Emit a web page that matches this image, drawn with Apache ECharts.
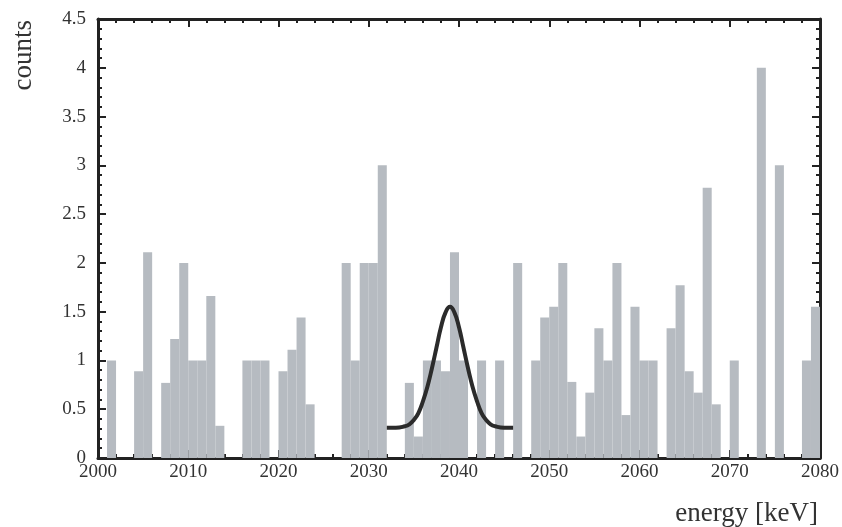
<!DOCTYPE html>
<html>
<head>
<meta charset="utf-8">
<script src="https://cdn.jsdelivr.net/npm/echarts@6/dist/echarts.min.js"></script>
<style>
html,body{margin:0;padding:0;background:#fff;}
#c{width:842px;height:527px;}
</style>
</head>
<body>
<div id="c"></div>
<script>
// Histogram bins: left edge in keV (1 keV wide)
const binStarts = [2000,2001,2002,2003,2004,2005,2006,2007,2008,2009,2010,2011,2012,2013,2014,2015,2016,2017,2018,2019,
  2020,2021,2022,2023,2024,2025,2026,2027,2028,2029,2030,2031,2032,2033,2034,2035,2036,2037,2038,2039,
  2040,2041,2042,2043,2044,2045,2046,2047,2048,2049,2050,2051,2052,2053,2054,2055,2056,2057,2058,2059,
  2060,2061,2062,2063,2064,2065,2066,2067,2068,2069,2070,2071,2072,2073,2074,2075,2076,2077,2078,2079];
const counts = [0,1,0,0,0.89,2.11,0,0.77,1.22,2,1,1,1.66,0.33,0,0,1,1,1,0,
  0.89,1.11,1.44,0.55,0,0,0,2,1,2,2,3,0,0,0.77,0.22,1,1,0.89,2.11,
  1,0,1,0,1,0,2,0,1,1.44,1.55,2,0.78,0.22,0.67,1.33,1,2,0.44,1.55,
  1,1,0,1.33,1.77,0.89,0.67,2.77,0.55,0,1,0,0,4,0,3,0,0,1,1.55];
// Fitted peak curve
const fitX = [2032,2033,2034,2034.5,2035,2035.5,2036,2036.5,2037,2037.5,2038,2038.5,2039,2039.5,2040,2040.5,2041,2041.5,2042,2042.5,2043,2043.5,2044,2045,2046];
const fitY = [0.31,0.31,0.325,0.345,0.39,0.46,0.58,0.73,0.92,1.13,1.34,1.49,1.55,1.49,1.34,1.13,0.92,0.73,0.58,0.46,0.39,0.345,0.325,0.31,0.31];
const yTicks = [0,0.5,1,1.5,2,2.5,3,3.5,4,4.5];
const xTicks = [2000,2010,2020,2030,2040,2050,2060,2070,2080];

const chart = echarts.init(document.getElementById('c'), null, {renderer:'canvas'});
const font = 'Liberation Serif';
const axisCol = '#222';
function axisCommon(show){
  return {
    axisLine:{show:true,onZero:false,lineStyle:{color:axisCol,width:3}},
    axisTick:{show:true,inside:true,length:8,lineStyle:{color:axisCol,width:2}},
    minorTick:{show:true,splitNumber:5,length:4,lineStyle:{color:axisCol,width:2}},
    splitLine:{show:false},
    axisLabel:{show:show,color:'#333',fontFamily:font,fontSize:19}
  };
}
const barData = binStarts.map((s,i)=>[s, counts[i]]);
chart.setOption({
  animation:false,
  grid:{left:98,right:22,top:19,bottom:69,containLabel:false},
  xAxis:[
    Object.assign({type:'value',min:2000,max:2080,interval:10,position:'bottom'}, axisCommon(true),
      {axisLabel:{show:true,color:'#333',fontFamily:font,fontSize:19,margin:5,formatter:v=>xTicks.includes(v)?String(v):''}}),
    Object.assign({type:'value',min:2000,max:2080,interval:10,position:'top'}, axisCommon(false))
  ],
  yAxis:[
    Object.assign({type:'value',min:0,max:4.5,interval:0.5,position:'left'}, axisCommon(true),
      {axisLabel:{show:true,color:'#333',fontFamily:font,fontSize:19,margin:12,formatter:v=>yTicks.includes(v)?String(v):''}}),
    Object.assign({type:'value',min:0,max:4.5,interval:0.5,position:'right'}, axisCommon(false))
  ],
  series:[
    {
      type:'custom',
      xAxisIndex:0,yAxisIndex:0,
      data:barData,
      renderItem:function(params, api){
        const x0 = api.value(0), v = api.value(1);
        if (!v) return null;
        const p1 = api.coord([x0, v]);
        const p2 = api.coord([x0+1, 0]);
        return {type:'rect', shape:{x:p1[0], y:p1[1], width:p2[0]-p1[0], height:p2[1]-p1[1]},
          style:{fill:'#b6bbc1'}};
      },
      z:1
    },
    {
      type:'line',
      xAxisIndex:0,yAxisIndex:0,
      data:fitX.map((x,i)=>[x,fitY[i]]),
      smooth:true,
      symbol:'none',
      lineStyle:{color:'#2b2b2b',width:4},
      z:3
    }
  ],
  graphic:[
    {type:'text', left:10, top:20, rotation:Math.PI/2, style:{text:'counts', font:'27px "Liberation Serif"', fill:'#333'}},
    {type:'text', right:24, bottom:0, style:{text:'energy [keV]', font:'27px "Liberation Serif"', fill:'#333'}}
  ]
});
</script>
</body>
</html>
